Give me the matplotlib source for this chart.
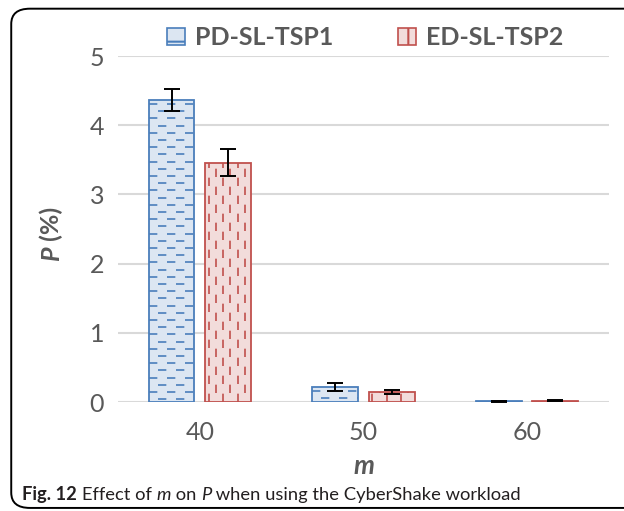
import numpy as np
import matplotlib.pyplot as plt
from matplotlib.patches import Patch, FancyBboxPatch

plt.rcParams["font.family"] = ["Lato", "DejaVu Sans"]
plt.rcParams["hatch.linewidth"] = 1.5

# data
m_values = ["40", "50", "60"]
series_names = ["PD-SL-TSP1", "ED-SL-TSP2"]
p_pd = [4.37, 0.22, 0.01]
p_ed = [3.46, 0.15, 0.02]
err_pd = [0.16, 0.06, 0.005]
err_ed = [0.20, 0.03, 0.005]

BLUE_EDGE = "#4a7ebb"
BLUE_FILL = "#dce6f2"
RED_EDGE = "#c0504d"
RED_FILL = "#f2dcdb"
GRID = "#d9d9d9"
TEXT = "#595959"
CAP = "#231f20"


def dash_fill(ax, bar, color, vertical=False, step_px=7.2):
    # dashed hatch lines, clipped to the bar
    x0, y0 = bar.get_x(), bar.get_y()
    w, h = bar.get_width(), bar.get_height()
    if h <= 0:
        return
    inv = ax.transData.inverted()
    p0 = inv.transform((0, 0))
    p1 = inv.transform((step_px, step_px))
    dx, dy = p1[0] - p0[0], p1[1] - p0[1]
    if vertical:
        xs = np.arange(x0 + dx * 0.5, x0 + w, dx)
        for i, xv in enumerate(xs):
            o = 0 if i % 2 == 0 else 5.4
            ln, = ax.plot([xv, xv], [y0, y0 + h], color=color, lw=1.2,
                          linestyle=(o, (5.0, 5.8)), solid_capstyle="butt")
            ln.set_clip_path(bar)
    else:
        ys = np.arange(y0 + h - dy * 0.6, y0, -dy)
        for i, yv in enumerate(ys):
            o = 0 if i % 2 == 0 else 5.4
            ln, = ax.plot([x0, x0 + w], [yv, yv], color=color, lw=1.2,
                          linestyle=(o, (5.0, 5.8)), solid_capstyle="butt")
            ln.set_clip_path(bar)


fig = plt.figure(figsize=(6.24, 5.11), dpi=100)
ax = fig.add_axes([0.189, 0.2133, 0.787, 0.677])

x = np.arange(len(m_values))
bw = 0.28
gap = 0.065
off = bw / 2 + gap / 2

bars_pd = ax.bar(x - off, p_pd, bw, color=BLUE_FILL, edgecolor=BLUE_EDGE,
                 linewidth=1.3, zorder=2)
bars_ed = ax.bar(x + off, p_ed, bw, color=RED_FILL, edgecolor=RED_EDGE,
                 linewidth=1.3, zorder=2)

ax.set_xlim(-0.5, 2.5)
ax.set_ylim(0, 5)
fig.canvas.draw()

for b in bars_pd:
    dash_fill(ax, b, BLUE_EDGE, vertical=False)
for b in bars_ed:
    dash_fill(ax, b, RED_EDGE, vertical=True)

ax.errorbar(x - off, p_pd, yerr=err_pd, fmt="none", ecolor="black",
            elinewidth=1.4, capsize=6, capthick=1.4, zorder=4)
ax.errorbar(x + off, p_ed, yerr=err_ed, fmt="none", ecolor="black",
            elinewidth=1.4, capsize=6, capthick=1.4, zorder=4)

ax.set_yticks(range(6))
ax.yaxis.grid(True, color=GRID, linewidth=1.5, zorder=0)
ax.set_axisbelow(True)
for s in ["top", "right", "left", "bottom"]:
    ax.spines[s].set_visible(False)
ax.tick_params(axis="both", length=0, labelsize=18, labelcolor=TEXT)
ax.tick_params(axis="y", pad=10)
ax.tick_params(axis="x", pad=14)
ax.set_xticks(x)
ax.set_xticklabels(m_values)

ax.set_xlabel("m", fontsize=19, fontweight="bold", fontstyle="italic",
              color=TEXT, labelpad=7)

# y label: italic P followed by upright (%)
fig.text(0.083, 0.517, "P", rotation=90, fontsize=18, fontweight="bold",
         fontstyle="italic", color=TEXT, ha="center", va="top")
fig.text(0.083, 0.517, " (%)", rotation=90, fontsize=18, fontweight="bold",
         color=TEXT, ha="center", va="bottom")

handles = [
    Patch(facecolor=BLUE_FILL, edgecolor=BLUE_EDGE, hatch="-", linewidth=1.2),
    Patch(facecolor=RED_FILL, edgecolor=RED_EDGE, hatch="|", linewidth=1.2),
]
leg = fig.legend(handles, series_names, loc="center", bbox_to_anchor=(0.585, 0.926),
                 ncol=2, frameon=False, fontsize=18, handlelength=0.7,
                 handleheight=0.7, columnspacing=2.6, handletextpad=0.4)
for t in leg.get_texts():
    t.set_color(TEXT)
    t.set_fontweight("bold")

# caption, built piece by piece to mix bold / italic; size chosen to fit the width
r = fig.canvas.get_renderer()
cap = [("Fig. 12 ", "normal", "bold"), ("Effect of ", "normal", "normal"),
       ("m", "italic", "normal"), (" on ", "normal", "normal"),
       ("P", "italic", "normal"),
       (" when using the CyberShake workload", "normal", "normal")]
target_w = 500.0
size = 14.0
total = 0.0
for s, style, weight in cap:
    t = fig.text(0, 0, s, fontsize=size, fontstyle=style, fontweight=weight)
    total += t.get_window_extent(renderer=r).width
    t.remove()
size = size * target_w / total

xpos = 0.036
for s, style, weight in cap:
    t = fig.text(xpos, 0.022, s, fontsize=size, fontstyle=style, fontweight=weight,
                 color=CAP, ha="left", va="baseline")
    bb = t.get_window_extent(renderer=r)
    xpos += bb.width / fig.bbox.width

# rounded frame
frame = FancyBboxPatch((0.018, 0.006), 1.2, 0.977,
                       boxstyle="round,pad=0,rounding_size=0.03",
                       transform=fig.transFigure, facecolor="none", edgecolor="black",
                       linewidth=1.4, clip_on=False)
fig.patches.append(frame)

fig.savefig("out.png", dpi=100)
